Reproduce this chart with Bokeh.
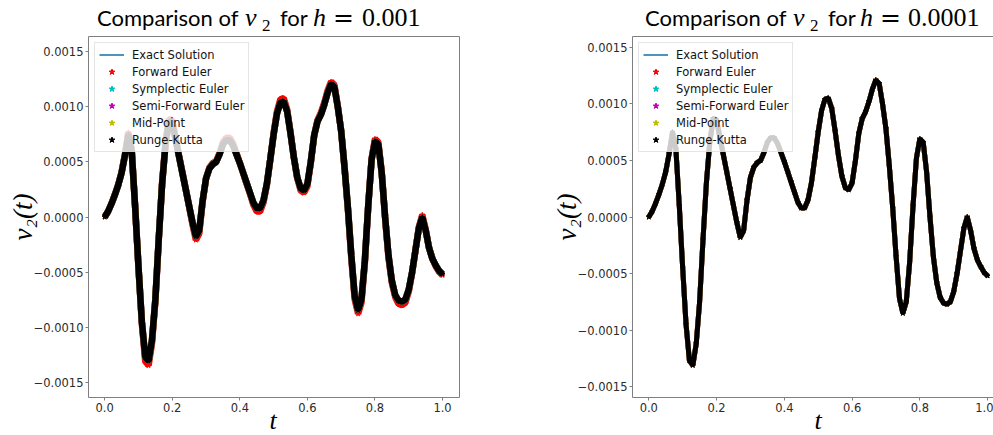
from bokeh.embed import file_html
from bokeh.layouts import column, row
from bokeh.models import Div, FixedTicker, Legend, LegendItem, LinearAxis, Range1d
from bokeh.plotting import figure
from bokeh.resources import INLINE

# ---------------------------------------------------------------------------
# data
# ---------------------------------------------------------------------------
t = [round(0.01 * i, 2) for i in range(101)]

# reference solution v2(t)
v2_exact = [
    0.00000, 0.00005, 0.00012, 0.00020, 0.00029, 0.00040, 0.00056, 0.00075, 0.00060, 0.00010,
    -0.00045, -0.00095, -0.00127, -0.00131, -0.00112, -0.00075, -0.00020, 0.00030, 0.00066, 0.00087,
    0.00086, 0.00070, 0.00055, 0.00040, 0.00025, 0.00010, -0.00005, -0.00018, -0.00012, 0.00015,
    0.00035, 0.00044, 0.00048, 0.00050, 0.00057, 0.00066, 0.00070, 0.00070, 0.00065, 0.00057,
    0.00049, 0.00040, 0.00031, 0.00022, 0.00013, 0.00008, 0.00008, 0.00015, 0.00030, 0.00052,
    0.00075, 0.00094, 0.00104, 0.00105, 0.00096, 0.00076, 0.00054, 0.00036, 0.00026, 0.00024,
    0.00030, 0.00050, 0.00074, 0.00087, 0.00093, 0.00102, 0.00113, 0.00121, 0.00118, 0.00100,
    0.00078, 0.00045, 0.00008, -0.00035, -0.00072, -0.00085, -0.00075, -0.00040, 0.00010, 0.00052,
    0.00069, 0.00066, 0.00040, 0.00000, -0.00035, -0.00058, -0.00071, -0.00076, -0.00077, -0.00075,
    -0.00066, -0.00050, -0.00030, -0.00010, 0.00000, -0.00012, -0.00028, -0.00038, -0.00044, -0.00049,
    -0.00052,
]

# forward Euler with h = 0.001 overshoots slightly at the turning points
v2_forward_euler_h001 = [
    0.00000, 0.00005, 0.00012, 0.00020, 0.00029, 0.00041, 0.00057, 0.00077, 0.00061, 0.00010,
    -0.00046, -0.00097, -0.00131, -0.00135, -0.00115, -0.00077, -0.00021, 0.00031, 0.00068, 0.00089,
    0.00088, 0.00072, 0.00056, 0.00041, 0.00025, 0.00009, -0.00007, -0.00021, -0.00015, 0.00014,
    0.00035, 0.00045, 0.00049, 0.00051, 0.00058, 0.00068, 0.00072, 0.00072, 0.00067, 0.00058,
    0.00049, 0.00040, 0.00030, 0.00021, 0.00011, 0.00005, 0.00005, 0.00013, 0.00029, 0.00052,
    0.00076, 0.00096, 0.00107, 0.00108, 0.00098, 0.00077, 0.00054, 0.00035, 0.00024, 0.00022,
    0.00028, 0.00049, 0.00074, 0.00088, 0.00095, 0.00104, 0.00115, 0.00123, 0.00120, 0.00101,
    0.00078, 0.00044, 0.00006, -0.00038, -0.00075, -0.00088, -0.00078, -0.00042, 0.00009, 0.00053,
    0.00071, 0.00068, 0.00041, -0.00001, -0.00037, -0.00060, -0.00073, -0.00079, -0.00080, -0.00078,
    -0.00068, -0.00051, -0.00030, -0.00009, 0.00002, -0.00011, -0.00028, -0.00038, -0.00045, -0.00050,
    -0.00053,
]

method_names = ["Forward Euler", "Symplectic Euler", "Semi-Forward Euler", "Mid-Point", "Runge-Kutta"]
method_colors = ["#ff0000", "#00bfbf", "#bf00bf", "#bfbf00", "#000000"]

step_sizes = ["0.001", "0.0001"]

# per step size: the series drawn for each method (same order as method_names)
series_h001 = [v2_forward_euler_h001, v2_exact, v2_exact, v2_exact, v2_exact]
series_h0001 = [v2_exact, v2_exact, v2_exact, v2_exact, v2_exact]

x_ticks = [0.0, 0.2, 0.4, 0.6, 0.8, 1.0]
x_tick_labels = ["0.0", "0.2", "0.4", "0.6", "0.8", "1.0"]
y_ticks = [-0.0015, -0.0010, -0.0005, 0.0, 0.0005, 0.0010, 0.0015]
y_tick_labels = ["\u22120.0015", "\u22120.0010", "\u22120.0005", "0.0000", "0.0005", "0.0010", "0.0015"]

# ---------------------------------------------------------------------------
# styling
# ---------------------------------------------------------------------------
SPINE = "#7f7f7f"
TEXT = "#2b2b2b"
SANS_TITLE = "Lato"
SERIF = "Liberation Serif"
TICK_FONT = "DejaVu Sans"

TOP = 36       # height of the title strip
BOTTOM = 19    # height of the x-label strip
PLOT_H = 435 - TOP - BOTTOM


def title_div(width, step, xs):
    """Title mixing an upright sans font with italic math symbols."""
    x0, x_v, x_sub, x_for, x_h, x_eq, x_num = xs
    serif = f"font-family:'{SERIF}';line-height:20px"
    pieces = [
        ("Comparison of", x_v - x0, ""),
        ("v", x_sub - x_v, f"{serif};font-style:italic;font-size:26px"),
        ("2", x_for - x_sub, f"{serif};font-size:17px;vertical-align:-5px"),
        ("for", x_h - x_for, ""),
        ("h", x_eq - x_h, f"{serif};font-style:italic;font-size:26px"),
        ("=", x_num - x_eq, "font-family:'DejaVu Serif';font-size:25px;line-height:20px"),
        (step, 80, f"{serif};font-size:26px"),
    ]
    spans = "".join(
        f'<span style="display:inline-block;width:{w}px;{st}">{txt}</span>'
        for txt, w, st in pieces)
    html = (f'<div style="position:relative;width:{width}px;height:{TOP}px;">'
            f'<div style="position:absolute;left:0;top:2.5px;padding-left:{x0}px;'
            f'white-space:nowrap;font-family:{SANS_TITLE};font-size:22px;'
            f'line-height:30px;color:#000;">{spans}</div></div>')
    return Div(text=html, width=width, height=TOP, margin=0)


def xlabel_div(width, x):
    html = (f'<div style="position:relative;width:{width}px;height:{BOTTOM}px;">'
            f'<span style="position:absolute;left:{x - 10}px;top:-5px;width:20px;'
            f"text-align:center;font-family:'{SERIF}';font-style:italic;"
            f'font-size:26px;line-height:19px;color:#000;">t</span></div>')
    return Div(text=html, width=width, height=BOTTOM, margin=0,
               styles={"overflow": "visible"})


def plot_panel(width, border_left, border_right, x_range, y_half, full_box,
               series, line_w, star_size):
    p = figure(width=width, height=PLOT_H, output_backend="svg", toolbar_location=None,
               x_range=Range1d(*x_range), y_range=Range1d(-y_half, y_half),
               min_border_left=border_left, min_border_right=border_right,
               min_border_top=0, min_border_bottom=BOTTOM)
    p.grid.visible = False
    p.background_fill_color = "white"
    p.border_fill_color = "white"

    for ax, ticks, labels in ((p.xaxis[0], x_ticks, x_tick_labels),
                              (p.yaxis[0], y_ticks, y_tick_labels)):
        ax.ticker = FixedTicker(ticks=ticks)
        ax.major_label_overrides = dict(zip(ticks, labels))
        ax.minor_tick_line_color = None
        ax.major_tick_in = 0
        ax.major_tick_out = 3
        ax.major_tick_line_color = SPINE
        ax.major_label_standoff = 2
        ax.major_label_text_font = TICK_FONT
        ax.major_label_text_font_size = "11.5px"
        ax.major_label_text_color = TEXT

    ya = p.yaxis[0]
    ya.axis_label = "v\u2082(t)"
    ya.axis_label_text_font = SERIF
    ya.axis_label_text_font_size = "27px"
    ya.axis_label_text_font_style = "italic"
    ya.axis_label_text_color = "#000000"
    ya.axis_label_standoff = -7

    if full_box:
        p.outline_line_color = SPINE
        p.outline_line_width = 1
        p.xaxis.axis_line_color = None
        p.yaxis.axis_line_color = None
    else:
        # this panel runs past the right edge of the page, so no right spine
        p.outline_line_color = None
        p.xaxis.axis_line_color = SPINE
        p.yaxis.axis_line_color = SPINE
        top = LinearAxis(ticker=FixedTicker(ticks=[]), axis_line_color=SPINE,
                         major_tick_out=0, major_tick_in=0, minor_tick_line_color=None,
                         major_label_standoff=0, major_label_text_font_size="0px")
        p.add_layout(top, "above")

    # exact solution and the five integrators
    exact = p.line(t, v2_exact, line_color="#1f77b4", line_width=1.6)
    items = [LegendItem(label="Exact Solution", renderers=[exact])]
    for name, color, values in zip(method_names, method_colors, series):
        p.line(t, values, line_color=color, line_width=line_w)
        r = p.scatter(t, values, marker="star", size=star_size, color=color)
        items.append(LegendItem(label=name, renderers=[r]))

    legend = Legend(items=items, location="top_left", margin=6, padding=4,
                    spacing=2, label_height=15, glyph_height=15, glyph_width=25,
                    label_standoff=8, label_text_font=TICK_FONT,
                    label_text_font_size="11.5px", label_text_color="#111111",
                    border_line_color="#cccccc", border_line_width=1,
                    background_fill_color="white", background_fill_alpha=0.8)
    p.add_layout(legend, "center")
    return p


left = column(
    title_div(500, step_sizes[0], (97, 245, 262, 280, 313, 333, 362)),
    plot_panel(500, 88, 41, (-0.0479, 1.0502), 0.00164, True, series_h001, 6.5, 5),
    xlabel_div(500, 273),
)
right = column(
    title_div(493, step_sizes[1], (145, 293, 310, 328, 360, 380, 408)),
    plot_panel(493, 132, 0, (-0.0481, 1.0175), 0.001595, False, series_h0001, 5, 5),
    xlabel_div(493, 318),
)

layout = row(left, right)
open("out.html", "w").write(file_html(layout, INLINE))
